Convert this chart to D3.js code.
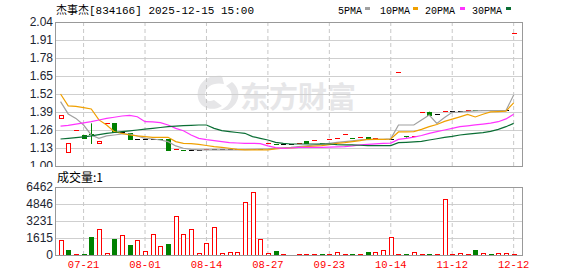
<!DOCTYPE html>
<html>
<head>
<meta charset="utf-8">
<script src="https://cdn.jsdelivr.net/npm/d3@7"></script>
<style>
body { margin: 0; background: #fff; }
svg { display: block; }
</style>
</head>
<body>
<div id="kline"></div>
<script>
var width = 578, height = 276;

// trading days shown on the chart (stock does not trade every day)
var dates = ["07-16","07-17","07-18","07-21","07-22","07-23","07-24","07-25","07-28","07-29",
             "07-31","08-01","08-04","08-05","08-06","08-07","08-08","08-11","08-12","08-14",
             "08-15","08-18","08-19","08-20","08-21","08-22","08-25","08-27","08-29","09-02",
             "09-05","09-09","09-12","09-16","09-19","09-23","09-24","09-26","09-29","09-30",
             "10-09","10-10","10-13","10-14","10-16","10-20","10-23","10-27","10-30","11-04",
             "11-07","11-12","11-14","11-18","11-21","11-25","11-28","12-03","12-08","12-12"];

var open  = [1.342,1.097,1.26,1.222,1.226,1.164,1.308,1.308,1.24,1.236,
             1.195,1.195,1.195,1.188,1.195,1.118,1.112,1.112,1.112,1.116,
             1.116,1.116,1.116,1.116,1.116,1.116,1.116,1.165,1.158,1.158,
             1.158,1.164,1.18,1.185,1.165,1.193,1.196,1.224,1.20,1.205,
             1.207,1.20,1.195,1.195,1.677,1.21,1.21,1.388,1.392,1.373,
             1.397,1.397,1.397,1.402,1.402,1.40,1.40,1.40,1.40,1.958];
var close = [1.366,1.164,1.26,1.198,1.222,1.181,1.308,1.24,1.24,1.195,
             1.195,1.195,1.195,1.188,1.113,1.118,1.112,1.112,1.112,1.116,
             1.116,1.116,1.116,1.116,1.116,1.116,1.116,1.165,1.158,1.158,
             1.158,1.164,1.169,1.185,1.165,1.193,1.196,1.224,1.20,1.205,
             1.198,1.20,1.195,1.195,1.677,1.205,1.21,1.388,1.373,1.373,
             1.397,1.397,1.397,1.402,1.398,1.40,1.398,1.40,1.40,1.958];
var high  = [1.366,1.164,1.26,1.222,1.308,1.181,1.308,1.308,1.24,1.236,
             1.195,1.195,1.195,1.188,1.195,1.118,1.112,1.112,1.112,1.116,
             1.116,1.116,1.116,1.116,1.116,1.116,1.116,1.165,1.158,1.158,
             1.158,1.164,1.18,1.185,1.165,1.193,1.196,1.224,1.20,1.205,
             1.207,1.20,1.195,1.195,1.677,1.21,1.21,1.388,1.392,1.373,
             1.397,1.397,1.397,1.402,1.402,1.40,1.40,1.40,1.40,1.958];
var low   = [1.342,1.097,1.26,1.198,1.159,1.164,1.308,1.24,1.24,1.19,
             1.195,1.195,1.195,1.188,1.113,1.118,1.112,1.112,1.112,1.116,
             1.116,1.116,1.116,1.116,1.116,1.116,1.116,1.165,1.158,1.158,
             1.158,1.164,1.169,1.185,1.165,1.193,1.196,1.224,1.20,1.205,
             1.198,1.20,1.195,1.195,1.677,1.205,1.21,1.388,1.373,1.373,
             1.397,1.397,1.397,1.402,1.398,1.40,1.398,1.40,1.40,1.958];

var volume = [1418,441,60,60,1670,2490,160,1480,1920,913,
              1450,410,2016,882,1008,3717,2016,2490,220,1166,
              2615,220,315,315,5040,5985,1544,160,347,60,
              0,60,60,60,60,60,315,60,60,60,
              250,315,504,1733,60,60,315,60,60,60,
              5323,60,160,60,441,160,60,160,160,1];
// 1 = up day (red), 0 = down day (green)
var volUp = [1,0,1,0,0,1,1,0,1,0,
             1,1,1,1,0,1,1,1,1,1,
             1,1,1,1,1,1,1,1,0,1,
             1,1,1,1,0,1,1,1,0,1,
             0,1,1,1,1,0,1,1,0,1,
             1,1,1,1,0,1,0,1,1,1];

var ma5  = [1.465,1.376,1.344,1.296,1.224,1.20,1.217,1.224,1.231,1.231,
            1.217,1.20,1.195,1.188,1.176,1.145,1.128,1.12,1.116,1.116,
            1.116,1.116,1.116,1.116,1.118,1.12,1.122,1.123,1.127,1.131,
            1.135,1.141,1.146,1.152,1.158,1.164,1.17,1.176,1.182,1.188,
            1.19,1.192,1.193,1.196,1.296,1.296,1.296,1.332,1.368,1.308,
            1.35,1.388,1.39,1.395,1.398,1.40,1.40,1.40,1.40,1.513];
var ma10 = [1.52,1.434,1.43,1.422,1.412,1.333,1.296,1.248,1.236,1.224,
            1.217,1.212,1.207,1.207,1.207,1.176,1.164,1.162,1.156,1.148,
            1.14,1.134,1.128,1.12,1.116,1.116,1.116,1.116,1.123,1.128,
            1.13,1.135,1.14,1.143,1.147,1.155,1.164,1.169,1.176,1.183,
            1.193,1.193,1.193,1.195,1.246,1.247,1.248,1.265,1.284,1.30,
            1.322,1.339,1.355,1.372,1.354,1.374,1.391,1.393,1.396,1.456];
var ma20 = [1.288,1.294,1.303,1.311,1.32,1.332,1.344,1.352,1.361,1.366,
            1.356,1.32,1.318,1.313,1.296,1.272,1.255,1.224,1.20,1.19,
            1.183,1.176,1.169,1.166,1.164,1.164,1.162,1.145,1.133,1.128,
            1.13,1.135,1.135,1.135,1.135,1.137,1.138,1.14,1.145,1.152,
            1.156,1.16,1.164,1.165,1.192,1.2,1.208,1.22,1.236,1.248,
            1.26,1.272,1.284,1.29,1.297,1.303,1.31,1.32,1.34,1.373];
var ma30 = [1.195,1.20,1.205,1.211,1.217,1.226,1.236,1.242,1.248,1.254,
            1.26,1.266,1.272,1.278,1.284,1.288,1.291,1.294,1.296,1.296,
            1.272,1.255,1.248,1.242,1.236,1.212,1.20,1.188,1.171,1.164,
            1.159,1.159,1.159,1.159,1.159,1.159,1.154,1.153,1.152,1.15,
            1.147,1.147,1.147,1.147,1.169,1.171,1.174,1.178,1.188,1.197,
            1.207,1.214,1.224,1.23,1.236,1.241,1.25,1.265,1.284,1.308];

var priceTicks = [1.13,1.26,1.39,1.52,1.65,1.78,1.91,2.04];
var volTicks = [0,1615,3231,4846,6462];
var dateTicks = ["07-21","08-01","08-14","08-27","09-23","10-14","11-12","12-12"];

var maNames  = ["5PMA","10PMA","20PMA","30PMA"];
var maColors = ["#a0a0a0","#f0a000","#ff33ff","#0b6e35"];
var maSeries = [ma5, ma10, ma20, ma30];

var red = "#ff0000", green = "#008000";

var left = 55, right = 522;
var pTop = 22, pBottom = 166, vTop = 187, vBottom = 255;

var svg = d3.select("#kline")
    .append("svg")
    .attr("width", width)
    .attr("height", height);

svg.append("rect")
    .attr("width", width)
    .attr("height", height)
    .attr("fill", "#fff");

var x = d3.scaleBand().domain(dates).range([56.7, 517.5]);
var xc = function(d) { return x(d) + x.bandwidth() / 2; };
var y = d3.scaleLinear().domain([1.00, 2.04]).range([pBottom, pTop]);
var yv = d3.scaleLinear().domain([0, 6462]).range([vBottom, vTop]);

//
// watermark
//
var wm = svg.append("g").attr("fill", "#e6e6e8");
wm.append("path")
    .attr("d", "M222,76 C205,74 196,86 198,98 C200,108 212,112 222,106 L214,100 C208,103 204,99 205,94 C206,86 214,82 224,84 Z M226,86 C236,92 232,106 220,110 L228,110 C240,104 242,90 232,82 Z");
wm.append("text")
    .attr("x", 240)
    .attr("y", 108)
    .attr("font-family", "Noto Sans CJK SC")
    .attr("font-weight", "bold")
    .attr("font-size", "29px")
    .text("东方财富");

//
// grid
//
svg.append("g")
    .attr("class", "pgrid")
    .attr("transform", "translate(" + left + ",0)")
    .call(d3.axisLeft(y).tickValues(priceTicks.slice(0, -1)).tickSize(-(right - left)).tickFormat(""))
    .call(function(g) { g.select(".domain").remove(); })
    .selectAll("line").attr("stroke", "#cfcfcf");

svg.append("g")
    .attr("class", "vgrid")
    .attr("transform", "translate(" + left + ",0)")
    .call(d3.axisLeft(yv).tickValues(volTicks.slice(1, -1)).tickSize(-(right - left)).tickFormat(""))
    .call(function(g) { g.select(".domain").remove(); })
    .selectAll("line").attr("stroke", "#cfcfcf");

svg.append("g")
    .attr("class", "dgrid")
    .attr("transform", "translate(0," + pBottom + ")")
    .call(d3.axisBottom(x).tickValues(dateTicks).tickSize(-(pBottom - pTop)).tickFormat(""))
    .call(function(g) { g.select(".domain").remove(); })
    .selectAll("line").attr("stroke", "#c8c8c8").attr("stroke-dasharray", "4,3");

svg.append("g")
    .attr("class", "dgrid2")
    .attr("transform", "translate(0," + vBottom + ")")
    .call(d3.axisBottom(x).tickValues(dateTicks).tickSize(-(vBottom - vTop)).tickFormat(""))
    .call(function(g) { g.select(".domain").remove(); })
    .selectAll("line").attr("stroke", "#c8c8c8").attr("stroke-dasharray", "4,3");

//
// candles
//
function candleColor(i) {
    if (close[i] > open[i]) return red;
    if (close[i] < open[i]) return green;
    var prev = i > 0 ? close[i - 1] : close[i];
    if (close[i] > prev) return red;
    if (close[i] < prev) return green;
    return "#000";
}

var candles = svg.append("g").attr("class", "candles");
dates.forEach(function(d, i) {
    var cx = Math.round(xc(d)) + 0.5;
    var col = candleColor(i);
    var yo = y(open[i]), yc = y(close[i]);
    var top = Math.min(yo, yc), bot = Math.max(yo, yc);
    candles.append("line")
        .attr("x1", cx).attr("x2", cx)
        .attr("y1", y(high[i])).attr("y2", y(low[i]))
        .attr("stroke", col);
    if (Math.abs(bot - top) < 1) {
        var yy = Math.floor(top) + 0.5;
        candles.append("line")
            .attr("x1", cx - 2.5).attr("x2", cx + 2.5)
            .attr("y1", yy).attr("y2", yy)
            .attr("stroke", col)
            .attr("stroke-width", 1);
    } else {
        candles.append("rect")
            .attr("x", cx - 2)
            .attr("y", Math.round(top) + 0.5)
            .attr("width", 4)
            .attr("height", Math.round(bot - top))
            .attr("fill", close[i] > open[i] ? "#fff" : col)
            .attr("stroke", col);
    }
});

//
// moving averages (drawn over the candles)
//
var line = d3.line()
    .x(function(d, i) { return xc(dates[i]); })
    .y(function(d) { return y(d); });

maSeries.forEach(function(s, k) {
    svg.append("path")
        .datum(s)
        .attr("fill", "none")
        .attr("stroke", maColors[k])
        .attr("stroke-width", 1.2)
        .attr("d", line);
});

//
// volume
//
var vols = svg.append("g").attr("class", "vols");
dates.forEach(function(d, i) {
    if (volume[i] <= 0) return;
    var cx = Math.round(xc(d)) + 0.5;
    var col = volUp[i] ? red : green;
    var h = Math.max(1, Math.round(vBottom - yv(volume[i])));
    vols.append("rect")
        .attr("x", cx - 2)
        .attr("y", vBottom - h + 0.5)
        .attr("width", 4)
        .attr("height", h)
        .attr("fill", volUp[i] ? "#fff" : col)
        .attr("stroke", col);
});

//
// frames
//
[[pTop, pBottom], [vTop, vBottom]].forEach(function(r) {
    svg.append("rect")
        .attr("x", left + 0.5)
        .attr("y", r[0] + 0.5)
        .attr("width", right - left)
        .attr("height", r[1] - r[0])
        .attr("fill", "none")
        .attr("stroke", "#999")
        .attr("stroke-width", 1);
});

//
// axis labels
//
svg.append("g")
    .attr("class", "py")
    .attr("transform", "translate(" + (left - 2) + ",0)")
    .call(d3.axisLeft(y).tickValues(priceTicks.concat([1.00])).tickSize(0).tickPadding(0).tickFormat(d3.format(".2f")))
    .call(function(g) { g.select(".domain").remove(); })
    .selectAll("text")
    .attr("font-family", "Liberation Sans, Arial")
    .attr("font-size", "12px")
    .attr("fill", "#1c2430");

// hide lower half of the 1.00 label like the source
svg.append("rect")
    .attr("x", 0).attr("y", pBottom + 1)
    .attr("width", left).attr("height", vTop - pBottom - 4)
    .attr("fill", "#fff");

svg.append("g")
    .attr("class", "vy")
    .attr("transform", "translate(" + (left - 2) + ",0)")
    .call(d3.axisLeft(yv).tickValues(volTicks).tickSize(0).tickPadding(0).tickFormat(d3.format("d")))
    .call(function(g) { g.select(".domain").remove(); })
    .selectAll("text")
    .attr("font-family", "Liberation Sans, Arial")
    .attr("font-size", "12px")
    .attr("fill", "#1c2430");

svg.append("g")
    .attr("class", "dx")
    .attr("transform", "translate(0," + vBottom + ")")
    .call(d3.axisBottom(x).tickValues(dateTicks).tickSize(0).tickPadding(6))
    .call(function(g) { g.select(".domain").remove(); })
    .selectAll("text")
    .attr("font-family", "Liberation Mono, monospace")
    .attr("font-size", "10.5px")
    .attr("fill", red);

//
// title, legend, volume label
//
svg.append("text")
    .attr("x", 56)
    .attr("y", 14)
    .attr("font-family", "Liberation Mono, Noto Sans CJK SC")
    .attr("font-size", "11px")
    .attr("fill", "#000")
    .text("杰事杰[834166] 2025-12-15 15:00");

var legX = [338, 380, 425, 472];
var boxX = [365, 413, 460, 506];
maNames.forEach(function(n, k) {
    svg.append("text")
        .attr("x", legX[k])
        .attr("y", 14)
        .attr("font-family", "Liberation Mono, monospace")
        .attr("font-size", "10px")
        .attr("fill", "#000")
        .text(n);
    svg.append("rect")
        .attr("x", boxX[k])
        .attr("y", 7)
        .attr("width", 5)
        .attr("height", 3)
        .attr("fill", maColors[k]);
});

svg.append("text")
    .attr("x", 57)
    .attr("y", 182)
    .attr("font-family", "Noto Sans CJK SC")
    .attr("font-size", "12px")
    .attr("fill", "#000")
    .text("成交量:" + volume[volume.length - 1]);
</script>
</body>
</html>
